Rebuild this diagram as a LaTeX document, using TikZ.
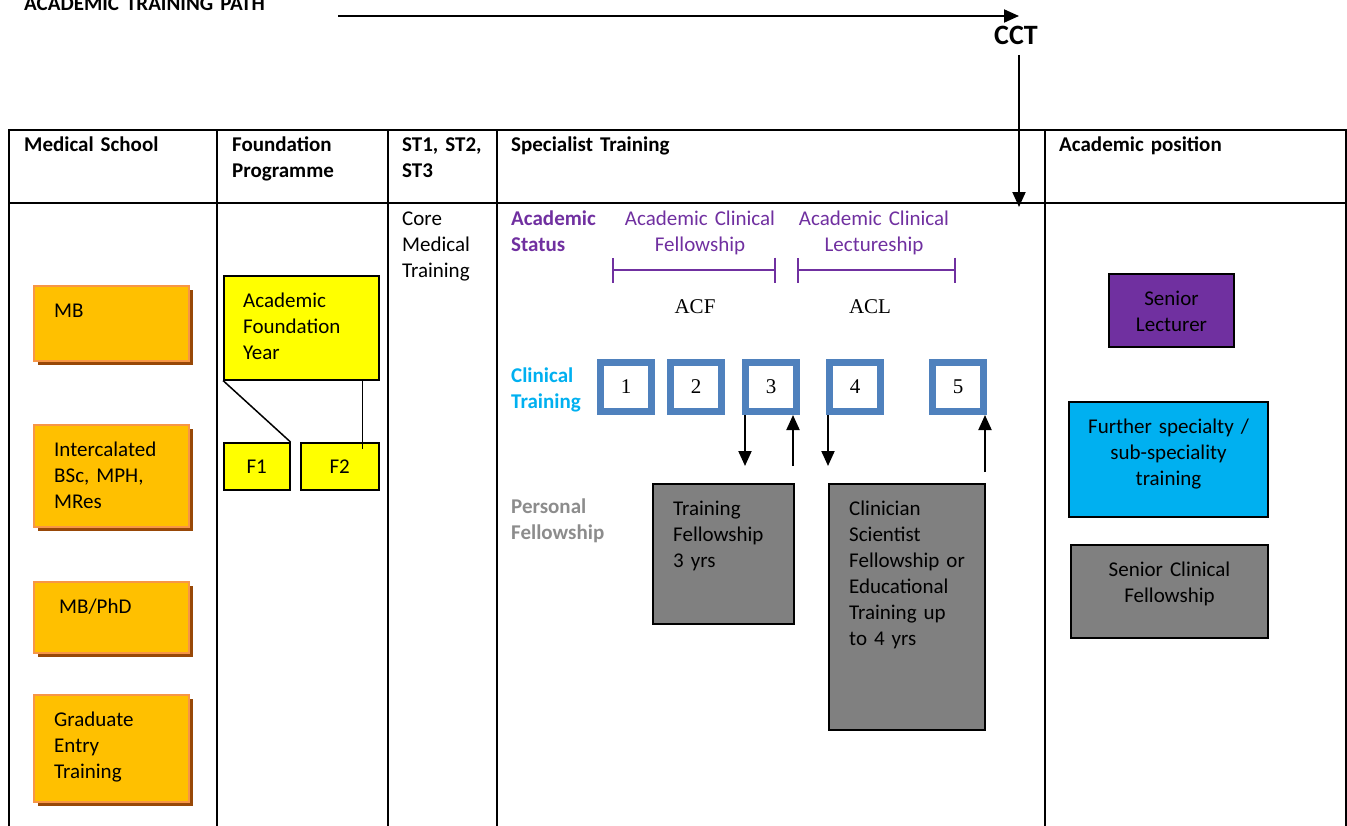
\documentclass[tikz,border=0pt]{standalone}
\usepackage{fontspec}
\setmainfont{Carlito}
\newfontfamily\numfont{Liberation Serif}
\usetikzlibrary{arrows.meta,shadows,positioning}
\definecolor{mbfill}{HTML}{FFC000}
\definecolor{mbline}{HTML}{F79646}
\definecolor{mbshade}{HTML}{984807}
\definecolor{fyfill}{HTML}{FFFF00}
\definecolor{acpurple}{HTML}{7030A0}
\definecolor{clcyan}{HTML}{00B0F0}
\definecolor{stblue}{HTML}{4F81BD}
\definecolor{pfgrey}{HTML}{808080}
\definecolor{pflabel}{HTML}{8C8C8C}
\tikzset{
  every node/.style={font=\fontsize{21}{26}\selectfont},
  tbl/.style={line width=2.2pt},
  arr/.style={line width=2pt, -{Triangle[length=15pt,width=13pt]}},
  hdr/.style={anchor=base west, inner sep=0pt, text width=260pt, align=left, font=\fontsize{21}{26}\selectfont\bfseries},
  txt/.style={anchor=base west, inner sep=0pt, text width=150pt, align=left},
  ctxt/.style={anchor=base, inner sep=0pt, text width=200pt, align=center},
  intxt/.style={anchor=north west, inner sep=0pt, text height=14pt, text width=130pt, align=left, xshift=21pt, yshift=-18pt},
  inctr/.style={anchor=north, inner sep=0pt, text height=14pt, text width=190pt, align=center, yshift=-18pt},
  mbbox/.style={anchor=north west, draw=mbline, line width=2pt, fill=mbfill, minimum width=155pt,
    drop shadow={shadow xshift=3.5pt, shadow yshift=-4pt, fill=mbshade, opacity=1}},
  fybox/.style={anchor=north west, draw, line width=1.5pt, fill=fyfill},
  stbox/.style={draw=stblue, line width=7pt, minimum width=51pt, minimum height=49pt, font=\numfont\fontsize{21}{26}\selectfont},
  pfbox/.style={anchor=north west, draw, line width=1.5pt, fill=pfgrey},
  apbox/.style={anchor=north west, draw, line width=2pt},
  brk/.style={draw=acpurple, line width=2pt, {Bar[width=25pt]}-{Bar[width=25pt]}}
}
\begin{document}
\begin{tikzpicture}[x=1pt,y=-1pt]
\useasboundingbox (0,0) rectangle (1347,825);
\node[hdr] (title) at (24,10) {ACADEMIC TRAINING PATH};
\node[font=\fontsize{28}{32}\selectfont\bfseries] (cct) at (1016,35) {CCT};
\coordinate (pathstart) at (338,16);
\coordinate (pathend) at (1019,16);
\coordinate (cctend) at (1019,207);
\draw[arr] (pathstart) -- (pathend);
\draw[arr] ([yshift=-7pt]cct.south -| cctend) -- (cctend);
\draw[tbl] (9,826) -- (9,130) -- (1346,130) -- (1346,826);
\draw[tbl] (9,203) -- (1346,203);
\foreach \x in {217,388,497,1045}
  \draw[tbl] (\x,130) -- (\x,826);
\node[hdr] (hms) at (24,151) {Medical School};
\node[hdr] (hfp) at (232,151) {Foundation\\Programme};
\node[hdr] (hst) at (402,151) {ST1, ST2,\\ST3};
\node[hdr] (hsp) at (511,151) {Specialist Training};
\node[hdr] (hap) at (1059,151) {Academic position};
\node[mbbox, minimum height=75pt, label={[intxt]north west:{MB}}] (mb) at (33,285) {};
\node[mbbox, minimum height=102pt, label={[intxt]north west:{Intercalated\\BSc, MPH,\\MRes}}] (ibsc) at (33,424) {};
\node[mbbox, minimum height=71pt, label={[intxt, xshift=5pt]north west:{MB/PhD}}] (mbphd) at (33,581) {};
\node[mbbox, minimum height=107pt, label={[intxt]north west:{Graduate\\Entry\\Training}}] (get) at (33,694) {};
\node[fybox, minimum width=155pt, minimum height=104pt, label={[intxt, xshift=-1pt]north west:{Academic\\Foundation\\Year}}] (afy) at (223,275) {};
\node[fybox, minimum width=66pt, minimum height=47pt] (f1) at (223,442) {F1};
\node[fybox, minimum width=78pt, minimum height=47pt] (f2) at (300,442) {F2};
\draw[line width=1.5pt] (afy.south west) -- (f1.north east);
\draw[line width=1.5pt] ([xshift=-17pt]afy.south east) -- ++(0,68);
\node[txt] (cmt) at (402,225) {Core\\Medical\\Training};
\node[txt, text=acpurple, font=\fontsize{21}{26}\selectfont\bfseries] (acst) at (511,225) {Academic\\Status};
\node[ctxt, text=acpurple] (acfl) at (700,225) {Academic Clinical\\Fellowship};
\node[ctxt, text=acpurple] (acll) at (874,225) {Academic Clinical\\Lectureship};
\draw[brk] (612,270) -- (776,270);
\draw[brk] (797,270) -- (956,270);
\node[anchor=base, inner sep=0pt, font=\numfont\fontsize{21}{26}\selectfont] (acf) at (695,313) {ACF};
\node[anchor=base, inner sep=0pt, font=\numfont\fontsize{21}{26}\selectfont] (acl) at (870,313) {ACL};
\node[txt, text=clcyan, font=\fontsize{21}{26}\selectfont\bfseries] (cltr) at (511,382) {Clinical\\Training};
\node[stbox] (st1) at (626,387) {1};
\node[stbox] (st2) at (696,387) {2};
\node[stbox] (st3) at (771,387) {3};
\node[stbox] (st4) at (855,387) {4};
\node[stbox] (st5) at (958,387) {5};
\node[txt, text=pflabel, font=\fontsize{21}{26}\selectfont\bfseries] (pfl) at (511,513) {Personal\\Fellowship};
\node[pfbox, minimum width=141pt, minimum height=140pt, label={[intxt]north west:{Training\\Fellowship\\3 yrs}}] (tf) at (652,483) {};
\node[pfbox, minimum width=156pt, minimum height=246pt, label={[intxt]north west:{Clinician\\Scientist\\Fellowship or\\Educational\\Training up\\to 4 yrs}}] (csf) at (828,483) {};
\coordinate (d3) at (745,466);
\coordinate (u3) at (793,466);
\coordinate (d4) at (828,466);
\coordinate (u5) at (985,472);
\draw[arr] (d3 |- st3.south) -- (d3);
\draw[arr] (u3) -- (u3 |- st3.south);
\draw[arr] (d4 |- st4.south) -- (d4);
\draw[arr] (u5) -- (u5 |- st5.south);
\node[apbox, fill=acpurple, minimum width=125pt, minimum height=73pt, label={[inctr]north:{Senior\\Lecturer}}] (sl) at (1108,273) {};
\node[apbox, fill=clcyan, minimum width=199pt, minimum height=115pt, label={[inctr]north:{Further specialty /\\sub-speciality\\training}}] (fst) at (1068,401) {};
\node[apbox, fill=pfgrey, minimum width=197pt, minimum height=93pt, label={[inctr]north:{Senior Clinical\\Fellowship}}] (scf) at (1070,544) {};
\end{tikzpicture}
\end{document}
